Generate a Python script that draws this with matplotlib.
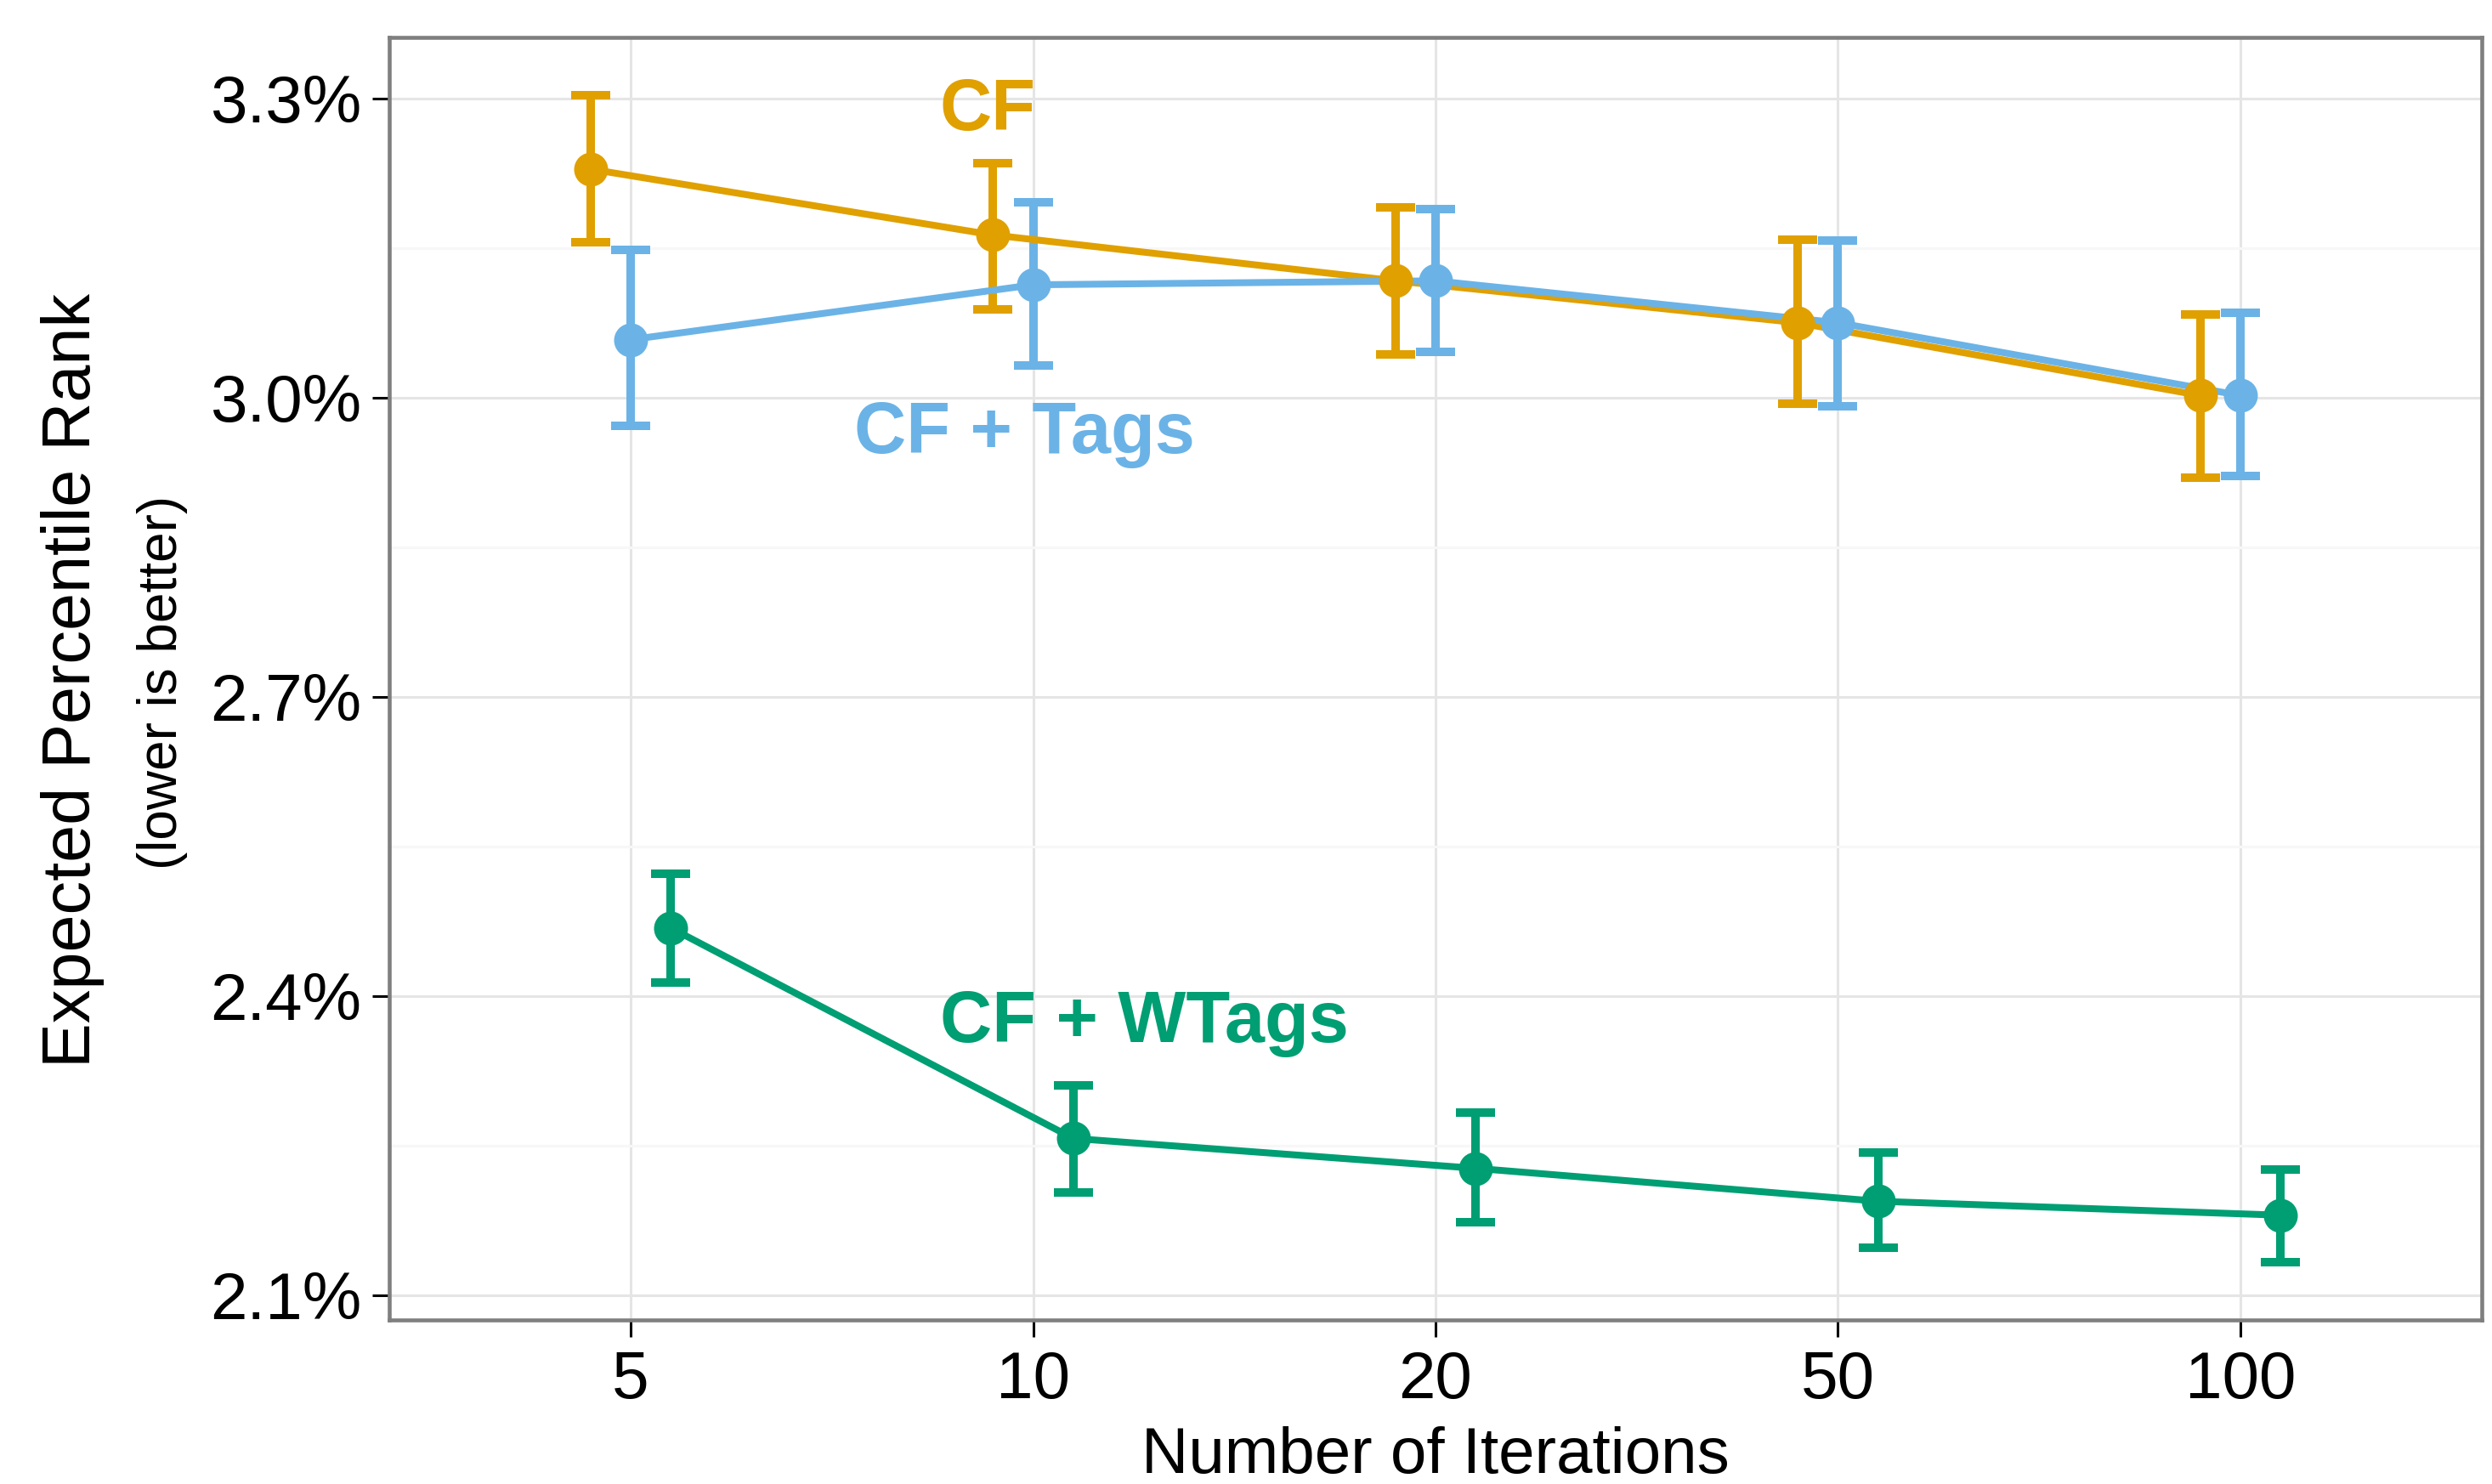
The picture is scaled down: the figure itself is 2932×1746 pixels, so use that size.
import numpy as np
import matplotlib
matplotlib.use('Agg')
import matplotlib.pyplot as plt
from matplotlib.ticker import FixedLocator

plt.rcParams['font.family'] = ['Liberation Sans', 'DejaVu Sans']

# values (percent)
iterations = ['5', '10', '20', '50', '100']

cf_mean = [3.229, 3.163, 3.117, 3.075, 3.002]
cf_lo = [3.156, 3.088, 3.043, 2.994, 2.920]
cf_hi = [3.303, 3.235, 3.191, 3.158, 3.083]

tags_mean = [3.058, 3.113, 3.117, 3.075, 3.002]
tags_lo = [2.972, 3.032, 3.046, 2.991, 2.921]
tags_hi = [3.148, 3.196, 3.189, 3.157, 3.085]

wtags_mean = [2.468, 2.257, 2.227, 2.194, 2.180]
wtags_lo = [2.413, 2.203, 2.173, 2.147, 2.133]
wtags_hi = [2.522, 2.310, 2.283, 2.243, 2.226]

series = [
    ('CF', cf_mean, cf_lo, cf_hi, '#E0A000', -0.1),
    ('CF + Tags', tags_mean, tags_lo, tags_hi, '#6BB3E6', 0.0),
    ('CF + WTags', wtags_mean, wtags_lo, wtags_hi, '#009E73', 0.1),
]

# label positions (category units, percent)
label_pos = {'CF': (1.887, 3.268), 'CF + Tags': (1.978, 2.944), 'CF + WTags': (2.276, 2.354)}

fig = plt.figure(figsize=(14.66, 8.73), dpi=200)
ax = fig.add_axes([0.1562, 0.1105, 0.9959 - 0.1562, 0.9748 - 0.1105])

x = np.arange(1, len(iterations) + 1)
for name, mean, lo, hi, color, off in series:
    mean = np.array(mean)
    yerr = [mean - np.array(lo), np.array(hi) - mean]
    ax.errorbar(x + off, mean, yerr=yerr, fmt='none', ecolor=color,
                elinewidth=3.6, capsize=8.4, capthick=3.6, zorder=3)
for name, mean, lo, hi, color, off in series:
    ax.plot(x + off, mean, color=color, lw=2.9, zorder=4, solid_capstyle='butt')
for name, mean, lo, hi, color, off in series:
    ax.plot(x + off, mean, 'o', color=color, ms=14.4, mew=0, zorder=5)
    lx, ly = label_pos[name]
    ax.text(lx, ly, name, color=color, fontsize=30.5, fontweight='bold',
            ha='center', va='baseline', zorder=6)

ax.set_xlim(0.4, 5.6)
ax.set_ylim(2.0749, 3.3611)
ax.set_xticks(x)
ax.set_xticklabels(iterations)
yt = [2.1, 2.4, 2.7, 3.0, 3.3]
ax.set_yticks(yt)
ax.set_yticklabels([f'{v:.1f}%' for v in yt])
ax.yaxis.set_minor_locator(FixedLocator([2.25, 2.55, 2.85, 3.15]))
ax.tick_params(axis='y', which='minor', length=0)

ax.grid(True, which='major', color='#E5E5E5', lw=1.1, zorder=0)
ax.grid(True, which='minor', axis='y', color='#F7F7F7', lw=1.1, zorder=0)
ax.set_axisbelow(True)

for s in ax.spines.values():
    s.set_color('#7F7F7F')
    s.set_linewidth(1.65)

ax.tick_params(axis='both', which='major', length=7.2, width=1.1, color='black',
               labelsize=28.2, labelcolor='black')
ax.tick_params(axis='y', pad=4.7)
ax.tick_params(axis='x', pad=5.5)

fig.text(1689 / 2932, 1 - 1733 / 1746, 'Number of Iterations', fontsize=27.5,
         ha='center', va='baseline')
fig.text(106 / 2932, 1 - 800 / 1746, 'Expected Percentile Rank', fontsize=28.5,
         rotation=90, rotation_mode='anchor', ha='center', va='baseline')
fig.text(208 / 2932, 1 - 803 / 1746, '(lower is better)', fontsize=23,
         rotation=90, rotation_mode='anchor', ha='center', va='baseline')

fig.savefig('out.png', dpi=200)
